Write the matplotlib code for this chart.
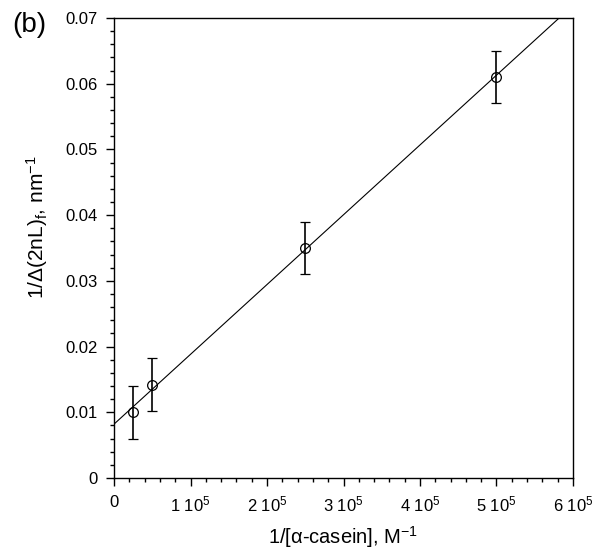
import matplotlib
matplotlib.use("Agg")
import matplotlib.pyplot as plt
import numpy as np
from matplotlib.ticker import MultipleLocator, FuncFormatter

plt.rcParams["font.family"] = ["Liberation Sans", "DejaVu Sans"]
plt.rcParams["mathtext.fontset"] = "custom"
plt.rcParams["mathtext.rm"] = "Liberation Sans"
plt.rcParams["mathtext.it"] = "Liberation Sans"
plt.rcParams["mathtext.default"] = "regular"

# data
inv_conc = [2.5e4, 5.0e4, 2.5e5, 5.0e5]          # 1/[alpha-casein], M^-1
inv_shift = [0.0100, 0.0142, 0.0350, 0.0610]     # 1/delta(2nL)_f, nm^-1
shift_err = [0.004, 0.004, 0.004, 0.004]
fit_intercept = 0.0082
fit_slope = 1.062e-7


def x_fmt(v, pos):
    if v == 0:
        return "0"
    return r"%d 10$^{5}$" % round(v / 1e5)


def y_fmt(v, pos):
    if abs(v) < 1e-9:
        return "0"
    return "%.2f" % v


fig = plt.figure(figsize=(6.01, 5.55), dpi=100)
ax = fig.add_axes([0.1897, 0.1387, 0.7637, 0.8289])

xs = np.array([0, 6e5])
ax.plot(xs, fit_intercept + fit_slope * xs, color="black", lw=0.8)
ax.errorbar(inv_conc, inv_shift, yerr=shift_err, fmt="o", mfc="none",
            mec="black", ms=7, mew=0.9, ecolor="black", elinewidth=1.2,
            capsize=3.5, capthick=1.2)

ax.set_xlim(0, 6e5)
ax.set_ylim(0, 0.07)
ax.xaxis.set_major_locator(MultipleLocator(1e5))
ax.xaxis.set_minor_locator(MultipleLocator(2e4))
ax.yaxis.set_major_locator(MultipleLocator(0.01))
ax.yaxis.set_minor_locator(MultipleLocator(0.002))
ax.xaxis.set_major_formatter(FuncFormatter(x_fmt))
ax.yaxis.set_major_formatter(FuncFormatter(y_fmt))

ax.tick_params(which="both", direction="out", top=False, right=False,
               width=1.0, labelsize=12)
ax.tick_params(which="major", length=6, pad=6)
ax.tick_params(which="minor", length=3)
for s in ax.spines.values():
    s.set_linewidth(1.0)

ax.set_xlabel(r"1/[$\alpha$-casein], M$^{-1}$", fontsize=14.5)
ax.set_ylabel(r"1/$\Delta$(2nL)$_{f}$, nm$^{-1}$", fontsize=15)
ax.xaxis.set_label_coords(0.5, -0.10)
ax.yaxis.set_label_coords(-0.14, 0.546)

fig.text(0.02, 0.955, "(b)", fontsize=20, va="center", ha="left")

fig.savefig("out.png", dpi=100)
